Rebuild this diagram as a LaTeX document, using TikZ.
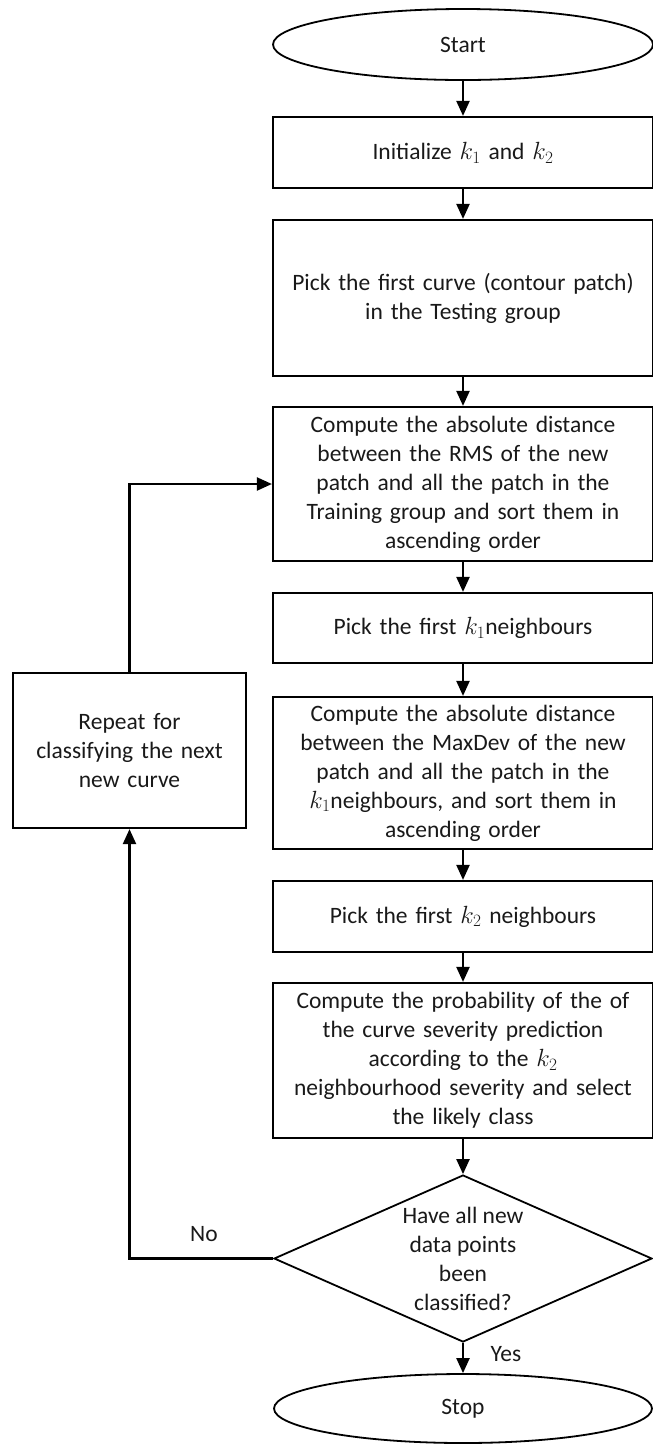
\documentclass[tikz,border=0pt]{standalone}
\usepackage{fontspec}
\setmainfont{Carlito}
\usetikzlibrary{shapes.geometric,arrows.meta}
\begin{document}
\begin{tikzpicture}[x=1pt,y=-1pt,
  txt/.style={font=\fontsize{23.5}{29}\selectfont, text=black!90},
  box/.style={txt, draw, line width=2.2pt, minimum width=380pt, text width=380pt, inner sep=0pt, align=center},
  term/.style={txt, draw, ellipse, line width=1.8pt, inner sep=0pt, minimum width=380pt},
  arr/.style={line width=2.2pt, -{Triangle[length=15pt,width=13pt]}}
]
\useasboundingbox (0,0) rectangle (653,1444);
\node[term, minimum height=71pt] (start) at (463,44.5) {Start};
\node[box, minimum height=71pt] (b1) at (463,152.5) {Initialize $k_1$ and $k_2$};
\node[box, minimum height=156pt] (b2) at (463,298) {Pick the first curve (contour patch)\\in the Testing group};
\node[box, minimum height=154pt] (b3) at (463,484) {Compute the absolute distance\\between the RMS of the new\\patch and all the patch in the\\Training group and sort them in\\ascending order};
\node[box, minimum height=70pt] (b4) at (463,628) {Pick the first $k_1$neighbours};
\node[box, minimum height=152pt] (b5) at (463,773) {Compute the absolute distance\\between the MaxDev of the new\\patch and all the patch in the\\$k_1$neighbours, and sort them in\\ascending order};
\node[box, minimum height=71pt] (b6) at (463,916.5) {Pick the first $k_2$ neighbours};
\node[box, minimum height=155pt] (b7) at (463,1060.5) {Compute the probability of the of\\the curve severity prediction\\according to the $k_2$\\neighbourhood severity and select\\the likely class};
\node[draw, diamond, line width=1.8pt, inner sep=0pt, minimum width=378pt, minimum height=167pt] (dec) at (463,1258.5) {};
\node[txt, align=center, inner sep=0pt] (dectxt) at (dec.center) {Have all new\\data points\\been\\classified?};
\node[term, minimum height=69pt, minimum width=378pt] (stop) at (463,1408.5) {Stop};
\node[box, minimum width=233pt, text width=233pt, minimum height=155pt] (rep) at (129.5,750.5) {Repeat for\\classifying the next\\new curve};
\node[txt] (nolab) at (204,1234) {No};
\node[txt] (yeslab) at (506,1354) {Yes};

\draw[arr] (start) -- (b1);
\draw[arr] (b1) -- (b2);
\draw[arr] (b2) -- (b3);
\draw[arr] (b3) -- (b4);
\draw[arr] (b4) -- (b5);
\draw[arr] (b5) -- (b6);
\draw[arr] (b6) -- (b7);
\draw[arr] (b7) -- (dec);
\draw[arr] (dec) -- (stop);
\draw[arr] (dec.west) -| (rep.south);
\draw[arr] (rep.north) |- (b3.west);
\end{tikzpicture}
\end{document}
